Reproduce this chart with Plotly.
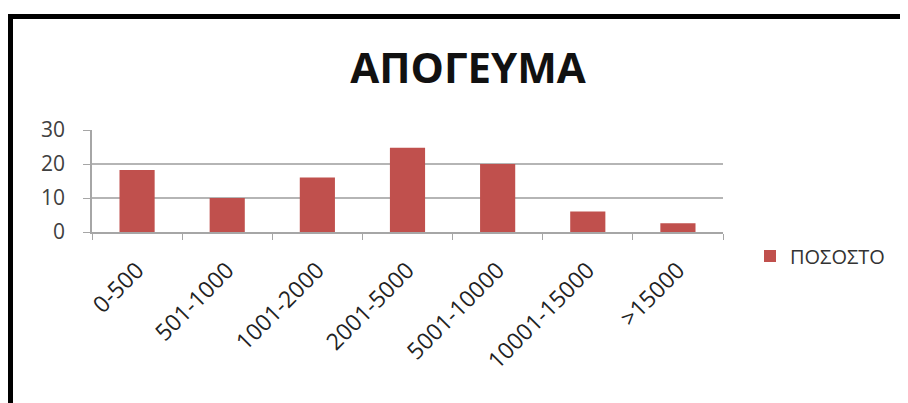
import plotly.graph_objects as go

categories = ["0-500", "501-1000", "1001-2000", "2001-5000", "5001-10000", "10001-15000", ">15000"]
pososto = [18.2, 10, 16, 24.8, 20, 6, 2.6]
series_name = "ΠΟΣΟΣΤΟ"
title_text = "ΑΠΟΓΕΥΜΑ"

W, H = 908, 403
OFF = 8  # page body margin
L, T = 92 - OFF, 130 - OFF
pw, ph = 631, 102
R, B = W - L - pw, H - T - ph


def px_x(x):
    return (x - OFF - L) / pw


def px_y(y):
    return (T + ph - (y - OFF)) / ph


fig = go.Figure(
    go.Bar(
        x=categories,
        y=pososto,
        name=series_name,
        marker=dict(color="#C0504D", line=dict(width=0)),
        showlegend=True,
    )
)

fig.update_layout(
    width=W,
    height=H,
    margin=dict(l=L, r=R, t=T, b=B),
    paper_bgcolor="white",
    plot_bgcolor="white",
    bargap=0.61,
    font=dict(family="Open Sans, Noto Sans, sans-serif", color="#333333"),
    title=dict(
        text=f"<b>{title_text}</b>",
        x=(468 - OFF) / W,
        xanchor="center",
        xref="container",
        y=1 - (68 - OFF) / H,
        yref="container",
        yanchor="middle",
        font=dict(size=42, color="#111111", family="Open Sans, Noto Sans, sans-serif"),
    ),
    legend=dict(
        x=px_x(750),
        y=px_y(256),
        xanchor="left",
        yanchor="middle",
        font=dict(size=20, color="#333333"),
        bgcolor="rgba(0,0,0,0)",
    ),
    shapes=[
        dict(
            type="rect",
            xref="paper",
            yref="paper",
            x0=px_x(10.5),
            x1=px_x(940),
            y0=px_y(440),
            y1=px_y(16.5),
            line=dict(color="black", width=5),
            fillcolor="rgba(0,0,0,0)",
            layer="below",
        )
    ],
)

fig.update_xaxes(
    type="category",
    showline=True,
    linecolor="#a6a6a6",
    linewidth=1.5,
    ticks="outside",
    tickson="boundaries",
    ticklen=6,
    tickcolor="#a6a6a6",
    tickangle=-45,
    tickfont=dict(size=23, color="#222222"),
    ticklabelstandoff=14,
    showgrid=False,
)
fig.update_yaxes(
    range=[0, 30],
    tickvals=[0, 10, 20, 30],
    showline=True,
    linecolor="#a6a6a6",
    linewidth=1.5,
    ticks="outside",
    ticklen=7,
    tickcolor="#a6a6a6",
    ticklabelstandoff=14,
    showgrid=True,
    gridcolor="#b5b5b5",
    gridwidth=1.5,
    zeroline=False,
    tickfont=dict(size=21, color="#404040"),
)

fig.write_html("out.html")
